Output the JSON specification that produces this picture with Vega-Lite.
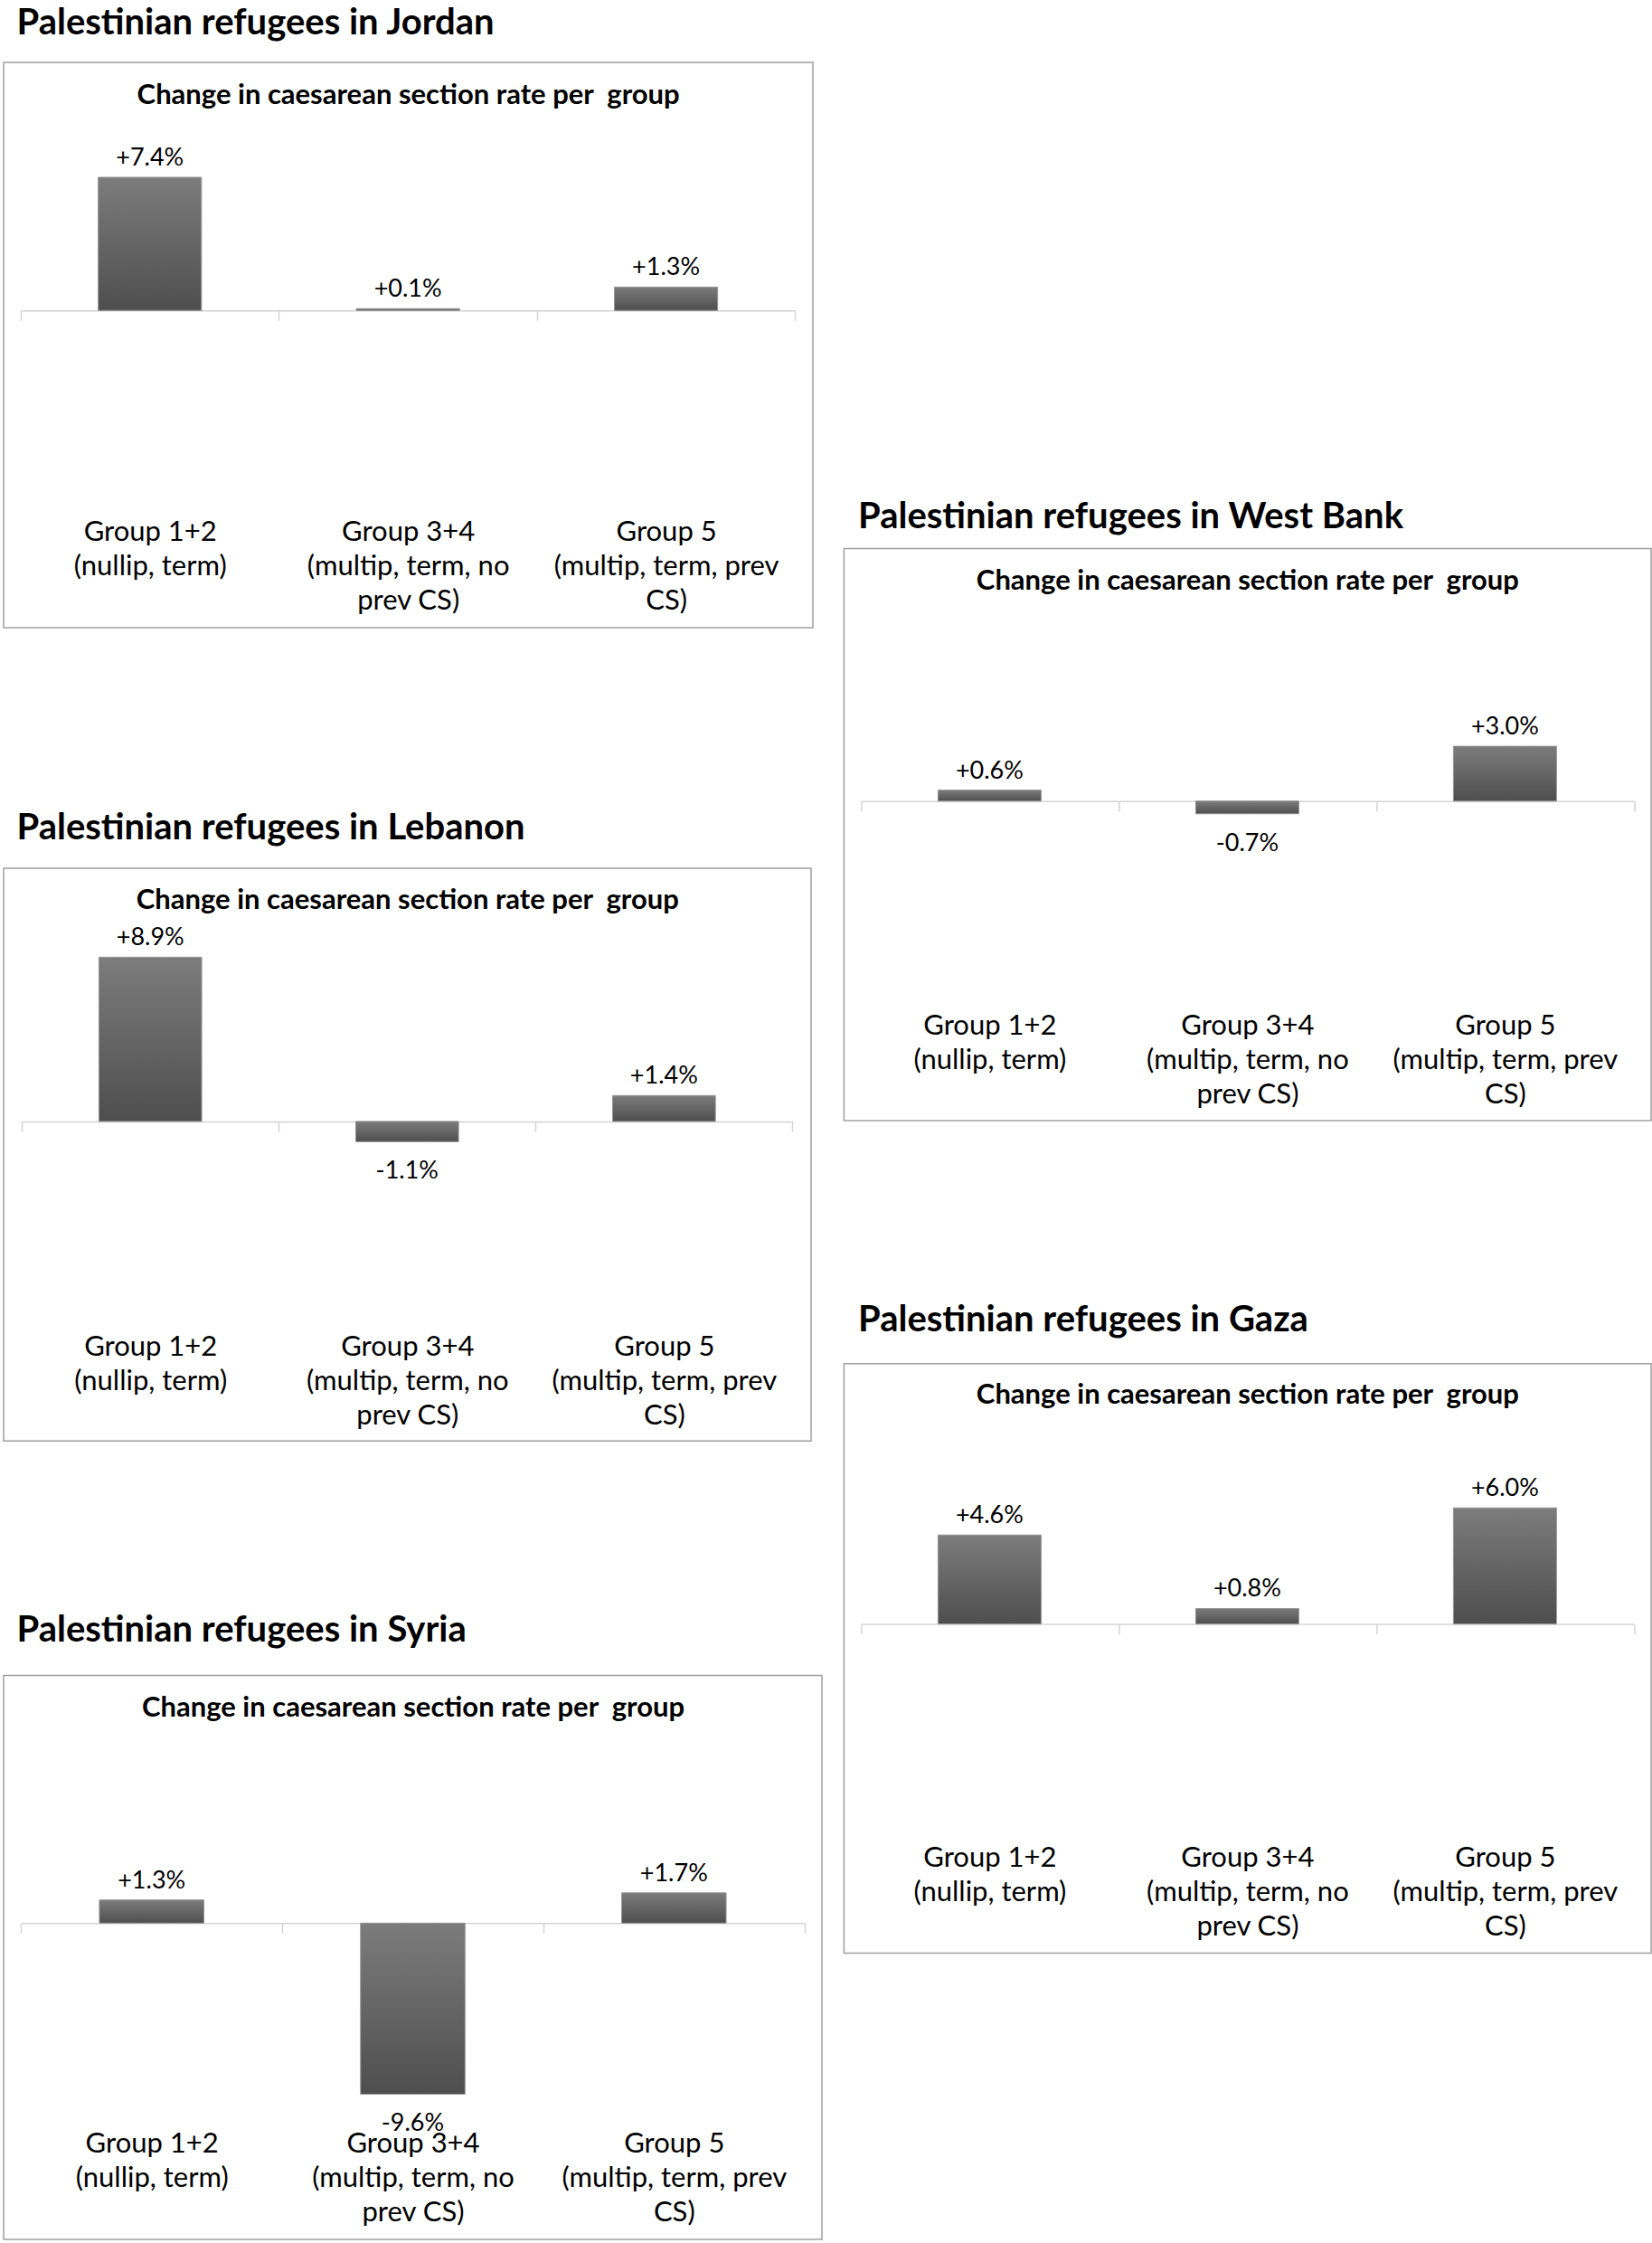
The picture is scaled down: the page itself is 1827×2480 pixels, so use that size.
{
  "$schema": "https://vega.github.io/schema/vega-lite/v6.json",
  "padding": {"left": 3, "top": 5, "right": 0, "bottom": 0},
  "background": "#ffffff",
  "config": {"view": {"stroke": null}, "font": "Lato"},
  "hconcat": [
    {
      "spacing": 200,
      "vconcat": [
        {
          "width": 895, "height": 625,
          "view": {"stroke": "#a0a0a0", "strokeWidth": 1.5},
          "title": {"text": "Palestinian refugees in Jordan", "anchor": "start", "dx": 14.5, "offset": 23, "fontSize": 40, "font": "Lato", "fontWeight": "bold", "color": "#000000"},
          "data": {"values": [
            {"group": "Group 1+2|(nullip, term)", "value": 7.4, "label": "+7.4%"},
            {"group": "Group 3+4|(multip, term, no|prev CS)", "value": 0.1, "label": "+0.1%"},
            {"group": "Group 5|(multip, term, prev|CS)", "value": 1.3, "label": "+1.3%"}
          ]},
          "layer": [
            {
              "mark": {"type": "bar", "width": {"band": 0.4}, "stroke": "#959595", "strokeWidth": 1, "color": {"gradient": "linear", "x1": 0, "y1": 0, "x2": 0, "y2": 1, "stops": [{"offset": 0, "color": "#7c7c7c"}, {"offset": 1, "color": "#4e4e4e"}]}},
              "encoding": {
                "x": {"field": "group", "type": "nominal", "sort": null, "scale": {"range": [19, 875.3], "paddingInner": 0, "paddingOuter": 0},
                  "axis": {"orient": "bottom", "offset": -350.7, "title": null, "domainColor": "#d4d4d4", "domainWidth": 1.5, "tickColor": "#d4d4d4", "tickWidth": 1.5, "tickSize": 11, "tickBand": "extent", "labelAngle": 0, "labelPadding": 219.5, "labelFont": "Lato", "labelFontSize": 31, "labelColor": "#000000", "labelLineHeight": 38, "labelLimit": 0, "labelOverlap": false, "labelExpr": "split(datum.label, '|')"}},
                "y": {"field": "value", "type": "quantitative", "scale": {"domain": [-17.623, 13.784], "nice": false}, "axis": null},
                "y2": {"datum": 0}
              }
            },
            {
              "transform": [{"filter": "datum.value >= 0"}],
              "mark": {"type": "text", "baseline": "alphabetic", "dy": -13, "fontSize": 27, "font": "Lato", "color": "#000000"},
              "encoding": {
                "x": {"field": "group", "type": "nominal", "sort": null,
                  "axis": {"orient": "top", "offset": -45, "labels": false, "ticks": false, "domain": false, "grid": false, "title": "Change in caesarean section rate per\u00a0 group", "titleFont": "Lato", "titleFontSize": 31, "titleFontWeight": "bold", "titleColor": "#000000", "titlePadding": 0, "titleBaseline": "alphabetic"}},
                "y": {"field": "value", "type": "quantitative", "axis": null},
                "text": {"field": "label"}
              }
            },
            {
              "transform": [{"filter": "datum.value < 0"}],
              "mark": {"type": "text", "baseline": "alphabetic", "dy": 41, "fontSize": 27, "font": "Lato", "color": "#000000"},
              "encoding": {
                "x": {"field": "group", "type": "nominal", "sort": null, "axis": null},
                "y": {"field": "value", "type": "quantitative", "axis": null},
                "text": {"field": "label"}
              }
            }
          ]
        },
        {
          "spacing": 188.4,
          "vconcat": [
            {
              "width": 893, "height": 633.2,
              "view": {"stroke": "#a0a0a0", "strokeWidth": 1.5},
              "title": {"text": "Palestinian refugees in Lebanon", "anchor": "start", "dx": 14.5, "offset": 24, "fontSize": 40, "font": "Lato", "fontWeight": "bold", "color": "#000000"},
              "data": {"values": [
                {"group": "Group 1+2|(nullip, term)", "value": 8.9, "label": "+8.9%"},
                {"group": "Group 3+4|(multip, term, no|prev CS)", "value": -1.1, "label": "-1.1%"},
                {"group": "Group 5|(multip, term, prev|CS)", "value": 1.4, "label": "+1.4%"}
              ]},
              "layer": [
                {
                  "mark": {"type": "bar", "width": {"band": 0.4}, "stroke": "#959595", "strokeWidth": 1, "color": {"gradient": "linear", "x1": 0, "y1": 0, "x2": 0, "y2": 1, "stops": [{"offset": 0, "color": "#7c7c7c"}, {"offset": 1, "color": "#4e4e4e"}]}},
                  "encoding": {
                    "x": {"field": "group", "type": "nominal", "sort": null, "scale": {"range": [20.2, 872.4], "paddingInner": 0, "paddingOuter": 0},
                      "axis": {"orient": "bottom", "offset": -353.3, "title": null, "domainColor": "#d4d4d4", "domainWidth": 1.5, "tickColor": "#d4d4d4", "tickWidth": 1.5, "tickSize": 11, "tickBand": "extent", "labelAngle": 0, "labelPadding": 223.9, "labelFont": "Lato", "labelFontSize": 31, "labelColor": "#000000", "labelLineHeight": 38, "labelLimit": 0, "labelOverlap": false, "labelExpr": "split(datum.label, '|')"}},
                    "y": {"field": "value", "type": "quantitative", "scale": {"domain": [-17.319, 13.721], "nice": false}, "axis": null},
                    "y2": {"datum": 0}
                  }
                },
                {
                  "transform": [{"filter": "datum.value >= 0"}],
                  "mark": {"type": "text", "baseline": "alphabetic", "dy": -13, "fontSize": 27, "font": "Lato", "color": "#000000"},
                  "encoding": {
                    "x": {"field": "group", "type": "nominal", "sort": null,
                      "axis": {"orient": "top", "offset": -44, "labels": false, "ticks": false, "domain": false, "grid": false, "title": "Change in caesarean section rate per\u00a0 group", "titleFont": "Lato", "titleFontSize": 31, "titleFontWeight": "bold", "titleColor": "#000000", "titlePadding": 0, "titleBaseline": "alphabetic"}},
                    "y": {"field": "value", "type": "quantitative", "axis": null},
                    "text": {"field": "label"}
                  }
                },
                {
                  "transform": [{"filter": "datum.value < 0"}],
                  "mark": {"type": "text", "baseline": "alphabetic", "dy": 41, "fontSize": 27, "font": "Lato", "color": "#000000"},
                  "encoding": {
                    "x": {"field": "group", "type": "nominal", "sort": null, "axis": null},
                    "y": {"field": "value", "type": "quantitative", "axis": null},
                    "text": {"field": "label"}
                  }
                }
              ]
            },
            {
              "width": 905, "height": 623.6,
              "view": {"stroke": "#a0a0a0", "strokeWidth": 1.5},
              "title": {"text": "Palestinian refugees in Syria", "anchor": "start", "dx": 14.5, "offset": 29, "fontSize": 40, "font": "Lato", "fontWeight": "bold", "color": "#000000"},
              "data": {"values": [
                {"group": "Group 1+2|(nullip, term)", "value": 1.3, "label": "+1.3%"},
                {"group": "Group 3+4|(multip, term, no|prev CS)", "value": -9.6, "label": "-9.6%"},
                {"group": "Group 5|(multip, term, prev|CS)", "value": 1.7, "label": "+1.7%"}
              ]},
              "layer": [
                {
                  "mark": {"type": "bar", "width": {"band": 0.4}, "stroke": "#959595", "strokeWidth": 1, "color": {"gradient": "linear", "x1": 0, "y1": 0, "x2": 0, "y2": 1, "stops": [{"offset": 0, "color": "#7c7c7c"}, {"offset": 1, "color": "#4e4e4e"}]}},
                  "encoding": {
                    "x": {"field": "group", "type": "nominal", "sort": null, "scale": {"range": [19.3, 885.7], "paddingInner": 0, "paddingOuter": 0},
                      "axis": {"orient": "bottom", "offset": -349.7, "title": null, "domainColor": "#d4d4d4", "domainWidth": 1.5, "tickColor": "#d4d4d4", "tickWidth": 1.5, "tickSize": 11, "tickBand": "extent", "labelAngle": 0, "labelPadding": 218.6, "labelFont": "Lato", "labelFontSize": 31, "labelColor": "#000000", "labelLineHeight": 38, "labelLimit": 0, "labelOverlap": false, "labelExpr": "split(datum.label, '|')"}},
                    "y": {"field": "value", "type": "quantitative", "scale": {"domain": [-17.751, 13.904], "nice": false}, "axis": null},
                    "y2": {"datum": 0}
                  }
                },
                {
                  "transform": [{"filter": "datum.value >= 0"}],
                  "mark": {"type": "text", "baseline": "alphabetic", "dy": -13, "fontSize": 27, "font": "Lato", "color": "#000000"},
                  "encoding": {
                    "x": {"field": "group", "type": "nominal", "sort": null,
                      "axis": {"orient": "top", "offset": -45, "labels": false, "ticks": false, "domain": false, "grid": false, "title": "Change in caesarean section rate per\u00a0 group", "titleFont": "Lato", "titleFontSize": 31, "titleFontWeight": "bold", "titleColor": "#000000", "titlePadding": 0, "titleBaseline": "alphabetic"}},
                    "y": {"field": "value", "type": "quantitative", "axis": null},
                    "text": {"field": "label"}
                  }
                },
                {
                  "transform": [{"filter": "datum.value < 0"}],
                  "mark": {"type": "text", "baseline": "alphabetic", "dy": 41, "fontSize": 27, "font": "Lato", "color": "#000000"},
                  "encoding": {
                    "x": {"field": "group", "type": "nominal", "sort": null, "axis": null},
                    "y": {"field": "value", "type": "quantitative", "axis": null},
                    "text": {"field": "label"}
                  }
                }
              ]
            }
          ]
        }
      ]
    },
    {
      "spacing": 198.4,
      "vconcat": [
        {
          "width": 10, "height": 283.8,
          "data": {"values": []},
          "mark": "point",
          "encoding": {}
        },
        {
          "width": 892.6, "height": 632.7,
          "view": {"stroke": "#a0a0a0", "strokeWidth": 1.5},
          "title": {"text": "Palestinian refugees in West Bank", "anchor": "start", "dx": 15.6, "offset": 14, "fontSize": 40, "font": "Lato", "fontWeight": "bold", "color": "#000000"},
          "data": {"values": [
            {"group": "Group 1+2|(nullip, term)", "value": 0.6, "label": "+0.6%"},
            {"group": "Group 3+4|(multip, term, no|prev CS)", "value": -0.7, "label": "-0.7%"},
            {"group": "Group 5|(multip, term, prev|CS)", "value": 3.0, "label": "+3.0%"}
          ]},
          "layer": [
            {
              "mark": {"type": "bar", "width": {"band": 0.4}, "stroke": "#959595", "strokeWidth": 1, "color": {"gradient": "linear", "x1": 0, "y1": 0, "x2": 0, "y2": 1, "stops": [{"offset": 0, "color": "#7c7c7c"}, {"offset": 1, "color": "#4e4e4e"}]}},
              "encoding": {
                "x": {"field": "group", "type": "nominal", "sort": null, "scale": {"range": [18.5, 873.5], "paddingInner": 0, "paddingOuter": 0},
                  "axis": {"orient": "bottom", "offset": -353.4, "title": null, "domainColor": "#d4d4d4", "domainWidth": 1.5, "tickColor": "#d4d4d4", "tickWidth": 1.5, "tickSize": 11, "tickBand": "extent", "labelAngle": 0, "labelPadding": 223, "labelFont": "Lato", "labelFontSize": 31, "labelColor": "#000000", "labelLineHeight": 38, "labelLimit": 0, "labelOverlap": false, "labelExpr": "split(datum.label, '|')"}},
                "y": {"field": "value", "type": "quantitative", "scale": {"domain": [-17.495, 13.827], "nice": false}, "axis": null},
                "y2": {"datum": 0}
              }
            },
            {
              "transform": [{"filter": "datum.value >= 0"}],
              "mark": {"type": "text", "baseline": "alphabetic", "dy": -13, "fontSize": 27, "font": "Lato", "color": "#000000"},
              "encoding": {
                "x": {"field": "group", "type": "nominal", "sort": null,
                  "axis": {"orient": "top", "offset": -45, "labels": false, "ticks": false, "domain": false, "grid": false, "title": "Change in caesarean section rate per\u00a0 group", "titleFont": "Lato", "titleFontSize": 31, "titleFontWeight": "bold", "titleColor": "#000000", "titlePadding": 0, "titleBaseline": "alphabetic"}},
                "y": {"field": "value", "type": "quantitative", "axis": null},
                "text": {"field": "label"}
              }
            },
            {
              "transform": [{"filter": "datum.value < 0"}],
              "mark": {"type": "text", "baseline": "alphabetic", "dy": 41, "fontSize": 27, "font": "Lato", "color": "#000000"},
              "encoding": {
                "x": {"field": "group", "type": "nominal", "sort": null, "axis": null},
                "y": {"field": "value", "type": "quantitative", "axis": null},
                "text": {"field": "label"}
              }
            }
          ]
        },
        {
          "width": 892.6, "height": 651.6,
          "view": {"stroke": "#a0a0a0", "strokeWidth": 1.5},
          "title": {"text": "Palestinian refugees in Gaza", "anchor": "start", "dx": 15.6, "offset": 28, "fontSize": 40, "font": "Lato", "fontWeight": "bold", "color": "#000000"},
          "data": {"values": [
            {"group": "Group 1+2|(nullip, term)", "value": 4.6, "label": "+4.6%"},
            {"group": "Group 3+4|(multip, term, no|prev CS)", "value": 0.8, "label": "+0.8%"},
            {"group": "Group 5|(multip, term, prev|CS)", "value": 6.0, "label": "+6.0%"}
          ]},
          "layer": [
            {
              "mark": {"type": "bar", "width": {"band": 0.4}, "stroke": "#959595", "strokeWidth": 1, "color": {"gradient": "linear", "x1": 0, "y1": 0, "x2": 0, "y2": 1, "stops": [{"offset": 0, "color": "#7c7c7c"}, {"offset": 1, "color": "#4e4e4e"}]}},
              "encoding": {
                "x": {"field": "group", "type": "nominal", "sort": null, "scale": {"range": [18.5, 873.5], "paddingInner": 0, "paddingOuter": 0},
                  "axis": {"orient": "bottom", "offset": -363.8, "title": null, "domainColor": "#d4d4d4", "domainWidth": 1.5, "tickColor": "#d4d4d4", "tickWidth": 1.5, "tickSize": 11, "tickBand": "extent", "labelAngle": 0, "labelPadding": 233, "labelFont": "Lato", "labelFontSize": 31, "labelColor": "#000000", "labelLineHeight": 38, "labelLimit": 0, "labelOverlap": false, "labelExpr": "split(datum.label, '|')"}},
                "y": {"field": "value", "type": "quantitative", "scale": {"domain": [-17.0, 13.449], "nice": false}, "axis": null},
                "y2": {"datum": 0}
              }
            },
            {
              "transform": [{"filter": "datum.value >= 0"}],
              "mark": {"type": "text", "baseline": "alphabetic", "dy": -13, "fontSize": 27, "font": "Lato", "color": "#000000"},
              "encoding": {
                "x": {"field": "group", "type": "nominal", "sort": null,
                  "axis": {"orient": "top", "offset": -44, "labels": false, "ticks": false, "domain": false, "grid": false, "title": "Change in caesarean section rate per\u00a0 group", "titleFont": "Lato", "titleFontSize": 31, "titleFontWeight": "bold", "titleColor": "#000000", "titlePadding": 0, "titleBaseline": "alphabetic"}},
                "y": {"field": "value", "type": "quantitative", "axis": null},
                "text": {"field": "label"}
              }
            },
            {
              "transform": [{"filter": "datum.value < 0"}],
              "mark": {"type": "text", "baseline": "alphabetic", "dy": 41, "fontSize": 27, "font": "Lato", "color": "#000000"},
              "encoding": {
                "x": {"field": "group", "type": "nominal", "sort": null, "axis": null},
                "y": {"field": "value", "type": "quantitative", "axis": null},
                "text": {"field": "label"}
              }
            }
          ]
        }
      ]
    }
  ],
  "spacing": 22.4
}
